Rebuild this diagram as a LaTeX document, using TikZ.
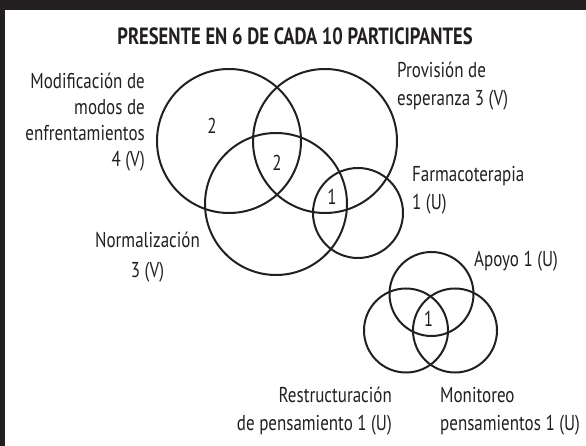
\documentclass[tikz,border=0pt]{standalone}
\usepackage{fontspec}
\setmainfont{PT Sans}[FakeStretch=0.79]
\definecolor{ink}{HTML}{231F20}
\begin{document}
\begin{tikzpicture}[x=1pt,y=-1pt,
  ring/.style={draw=ink,line width=2pt},
  lbl/.style={inner sep=0pt,text=ink,font=\fontsize{21.5}{26}\selectfont},
  num/.style={inner sep=0pt,text=ink,font=\fontsize{21.5}{24}\selectfont}]
\useasboundingbox (0,0) rectangle (586,446);
\fill[ink] (0,0) rectangle (586,10);
\fill[ink] (0,0) rectangle (5,446);
\node[inner sep=0pt,text=ink,anchor=base,font=\bfseries\fontsize{23.5}{26}\selectfont] (title) at (295,45) {PRESENTE EN 6 DE CADA 10 PARTICIPANTES};
% circles
\draw[ring] (229,141) circle[radius=72];
\draw[ring] (325,141) circle[radius=72];
\draw[ring] (276,204) circle[radius=71];
\draw[ring] (358,213) circle[radius=45];
\draw[ring] (431.5,294) circle[radius=42];
\draw[ring] (406,330.5) circle[radius=42];
\draw[ring] (455,330.5) circle[radius=42];
% numbers
\node[num] (n1) at (212,126) {2};
\node[num] (n2) at (277,163) {2};
\node[num] (n3) at (332,197) {1};
\node[num] (n4) at (428.5,319) {1};
% labels (base anchor = baseline of the last line)
\node[lbl,align=right,anchor=base east] (modif) at (145,167) {Modificación de\\modos de\\enfrentamientos\\4 (V)};
\node[lbl,align=left,anchor=base west,font=\fontsize{21.5}{28}\selectfont] (prov) at (397,106) {Provisión de\\esperanza 3 (V)};
\node[lbl,align=left,anchor=base west,font=\fontsize{21.5}{28}\selectfont] (farma) at (412,210) {Farmacoterapia\\1 (U)};
\node[lbl,align=center,anchor=base,font=\fontsize{21.5}{29}\selectfont] (norm) at (147.5,277) {Normalización\\3 (V)};
\node[lbl,anchor=base west] (apoyo) at (474,267) {Apoyo 1 (U)};
\node[lbl,align=right,anchor=base east,font=\fontsize{21.5}{28}\selectfont] (restr) at (392,430) {Restructuración\\de pensamiento 1 (U)};
\node[lbl,align=left,anchor=base west,font=\fontsize{21.5}{28}\selectfont] (monit) at (440,430) {Monitoreo\\pensamientos 1 (U)};
\end{tikzpicture}
\end{document}
